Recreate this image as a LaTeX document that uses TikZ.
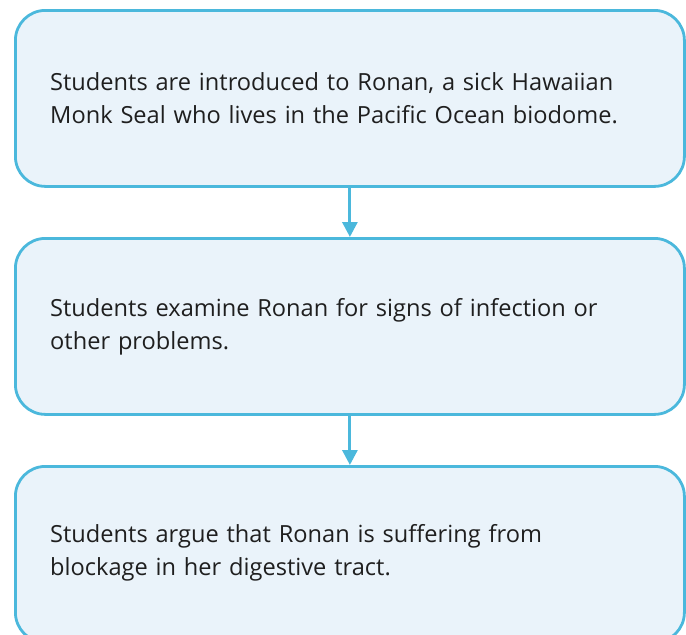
\documentclass[tikz,border=0pt]{standalone}
\usepackage{fontspec}
\setmainfont{Open Sans}
\usetikzlibrary{arrows.meta}
\definecolor{boxline}{RGB}{75,184,220}
\definecolor{boxfill}{RGB}{234,243,250}
\begin{document}
\begin{tikzpicture}[x=1pt,y=-1pt,
  stepbox/.style={draw=boxline,fill=boxfill,line width=2.8pt,rounded corners=30pt,minimum width=669pt,minimum height=176pt,inner sep=0pt,anchor=north west},
  steptext/.style={anchor=west,align=left,text width=630pt,inner sep=0pt,font=\fontsize{23.6}{33}\selectfont,text=black!88},
  flow/.style={draw=boxline,line width=3pt,-{Triangle[length=15pt,width=15pt]}}]
\clip (0,0) rectangle (686,635);
\useasboundingbox (0,0) rectangle (686,635);
\node[stepbox] (b1) at (14,9) {};
\node[stepbox] (b2) at (14,237) {};
\node[stepbox] (b3) at (14,465) {};
\node[steptext] (t1) at (50,98) {Students are introduced to Ronan, a sick Hawaiian\\Monk Seal who lives in the Pacific Ocean biodome.};
\node[steptext] (t2) at (50,327) {Students examine Ronan for signs of infection or\\other problems.};
\node[steptext] (t3) at (50,553) {Students argue that Ronan is suffering from\\blockage in her digestive tract.};
\draw[flow] (b1.south) -- (b2.north);
\draw[flow] (b2.south) -- (b3.north);
\end{tikzpicture}
\end{document}
